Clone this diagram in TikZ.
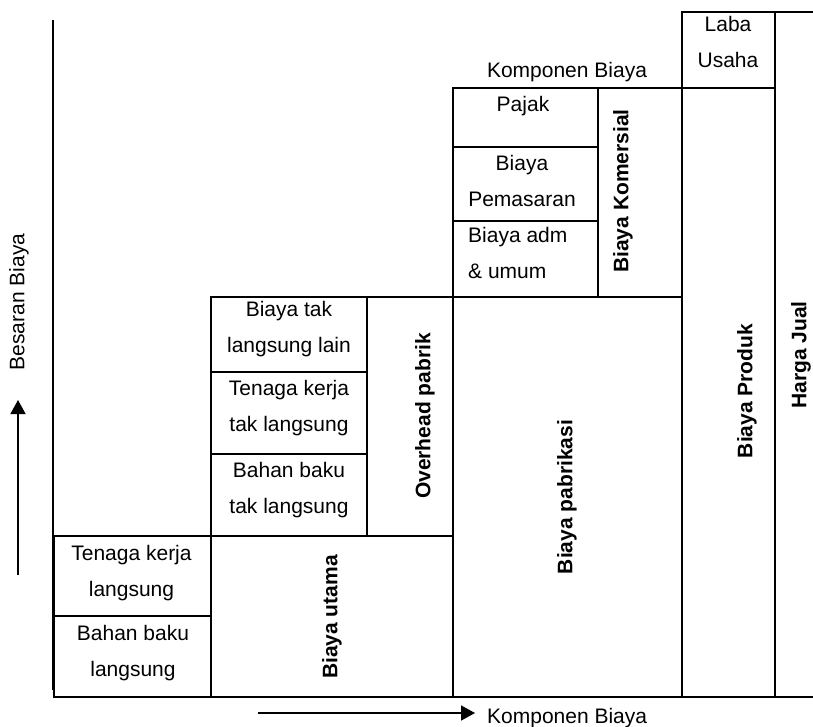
\documentclass[tikz,border=0pt]{standalone}
\usepackage{fontspec}
\setmainfont{Liberation Sans}
\usetikzlibrary{arrows.meta}
\begin{document}
\begin{tikzpicture}[x=1pt,y=-1pt,>={Triangle[length=14pt,width=15pt]},
  cell/.style={draw,line width=1.8pt,anchor=north west,inner sep=0pt,outer sep=0pt},
  txt/.style={font=\fontsize{21}{36}\selectfont,align=center,inner sep=0pt},
  bold/.style={font=\fontsize{21}{36}\selectfont\bfseries,rotate=90,inner sep=0pt}]
\useasboundingbox (0,0) rectangle (813,727);
% axes
\coordinate (ax0) at (53,20);
\coordinate (ax1) at (53,690);
\draw[line width=1.5pt] (ax0)--(ax1);
\coordinate (ya0) at (18,575);
\coordinate (ya1) at (18,400);
\draw[->,line width=1.6pt] (ya0)--(ya1);
\coordinate (xa0) at (258,713);
\coordinate (xa1) at (475,713);
\draw[->,line width=1.6pt] (xa0)--(xa1);
\node[txt,rotate=90] (besaran) at (19,302) {Besaran Biaya};
\node[txt,anchor=base west] (komp) at (487,723) {Komponen Biaya};

% cells
\foreach \n/\x/\y/\w/\h in {tkl/54/536/157/80,bbl/54/616/157/81,utama/211/536/242/161,
  btl/211/297/156/75,tktl/211/372/156/82,bbtl/211/454/156/82,ovh/367/297/86/239,
  pabr/453/297/229/400,pajak/453/88/145/59,pemas/453/147/145/74,adm/453/221/145/76,
  kom/598/88/84/209,produk/682/88/93/609,laba/682/12/93/76,harga/775/12/41/685}
{
    \node[cell,minimum width=\w pt,minimum height=\h pt] (\n) at (\x,\y) {};
}

\node[txt] (tkl-t) at (131.5,573) {Tenaga kerja\\langsung};
\node[txt] (bbl-t) at (133,653) {Bahan baku\\langsung};
\node[txt] (btl-t) at (289,329) {Biaya tak\\langsung lain};
\node[txt] (tktl-t) at (289,408) {Tenaga kerja\\tak langsung};
\node[txt] (bbtl-t) at (289,490) {Bahan baku\\tak langsung};
\node[txt] (pajak-t) at (523,106) {Pajak};
\node[txt] (pemas-t) at (522,181) {Biaya\\Pemasaran};
\node[txt,align=left,anchor=west] (adm-t) at (468,253) {Biaya adm\\\& umum};
\node[txt] (laba-t) at (728,42) {Laba\\Usaha};
\node[txt] (komp-t) at (567,72) {Komponen Biaya};

\node[bold] (utama-t) at (332,617) {Biaya utama};
\node[bold] (ovh-t) at (425,416) {Overhead pabrik};
\node[bold] (pabr-t) at (567,497) {Biaya pabrikasi};
\node[bold] (kom-t) at (623,191) {Biaya Komersial};
\node[bold] (produk-t) at (747,391) {Biaya Produk};
\node[bold] (harga-t) at (801,355) {Harga Jual};
\end{tikzpicture}
\end{document}
